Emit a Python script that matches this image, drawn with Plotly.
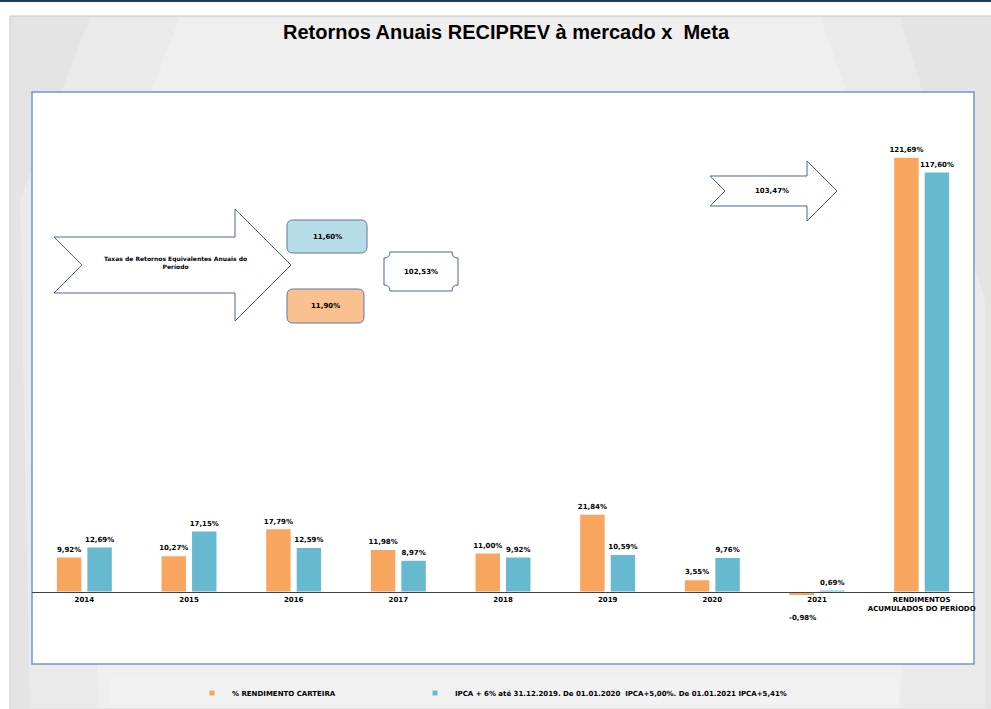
import plotly.graph_objects as go

# ---------------- data ----------------
categories = ["2014", "2015", "2016", "2017", "2018", "2019", "2020", "2021",
              "RENDIMENTOS<br>ACUMULADOS DO PERÍODO"]
carteira = [9.92, 10.27, 17.79, 11.98, 11.00, 21.84, 3.55, -0.98, 121.69]
meta = [12.69, 17.15, 12.59, 8.97, 9.92, 10.59, 9.76, 0.69, 117.60]
name_carteira = "% RENDIMENTO CARTEIRA"
name_meta = "IPCA + 6% até 31.12.2019. De 01.01.2020  IPCA+5,00%. De 01.01.2021 IPCA+5,41%"
title_text = "Retornos Anuais RECIPREV à mercado x \u00a0Meta"
arrow_text = "Taxas de Retornos Equivalentes Anuais do<br>Período"
taxa_meta = "11,60%"
taxa_carteira = "11,90%"
razao_taxas = "102,53%"
razao_acumulado = "103,47%"

# ---------------- geometry helpers ----------------
W, H = 991, 709
PL, PR, PT, PB = 32, 974, 92, 664  # plot box in px


def fx(x):
    return (x - PL) / (PR - PL)


def fy(y):
    return (PB - y) / (PB - PT)


def P(x, y):
    return f"{fx(x):.5f},{fy(y):.5f}"


def fmt(v):
    return f"{v:.2f}%".replace(".", ",")


ORANGE = "#F8A55F"
BLUE = "#67B9CF"
OUTLINE = "#4A6491"
FONT = "DejaVu Sans"


def label_list(vals):
    return [fmt(v) if v >= 0 else "" for v in vals]


fig = go.Figure()
fig.add_trace(go.Bar(
    x=categories, y=carteira, name=name_carteira, marker_color=ORANGE,
    marker_line=dict(color="white", width=1.5), text=label_list(carteira),
    textposition="outside", constraintext="none", cliponaxis=False,
    textfont=dict(family=FONT, size=7, color="black", weight="bold"),
    showlegend=False))
fig.add_trace(go.Bar(
    x=categories, y=meta, name=name_meta, marker_color=BLUE,
    marker_line=dict(color="white", width=1.5), text=label_list(meta),
    textposition="outside", constraintext="none", cliponaxis=False,
    textfont=dict(family=FONT, size=7, color="black", weight="bold"),
    showlegend=False))
# legend proxies (small square symbols), one legend each so they can be placed freely
fig.add_trace(go.Scatter(x=[None], y=[None], mode="markers", name=name_carteira, legend="legend",
                         marker=dict(symbol="square", size=5, color=ORANGE)))
fig.add_trace(go.Scatter(x=[None], y=[None], mode="markers", name=name_meta, legend="legend2",
                         marker=dict(symbol="square", size=5, color=BLUE)))

annotations = []
# negative value labels below the axis labels
for series, xs in ((carteira, -15), (meta, 15)):
    for i, v in enumerate(series):
        if v < 0:
            annotations.append(dict(x=i, y=v, xref="x", yref="y", text=fmt(v),
                                    showarrow=False, xshift=xs, yshift=-22,
                                    font=dict(family=FONT, size=7, color="black", weight="bold")))

shapes = []
# top navy line
shapes.append(dict(type="rect", xref="paper", yref="paper", x0=fx(0), x1=fx(W), y0=fy(0), y1=fy(2),
                   fillcolor="#1F3B5C", line_width=0, layer="below"))
# card
shapes.append(dict(type="rect", xref="paper", yref="paper", x0=fx(10), x1=fx(W + 5), y0=fy(16), y1=fy(H + 5),
                   fillcolor="#E4E4E4", line=dict(color="#C6C6C6", width=1), layer="below"))
# lighter gradient bands
shapes.append(dict(type="path", xref="paper", yref="paper",
                   path=f"M{P(90,17)} L{P(900,17)} L{P(985,300)} L{P(985,708)} L{P(30,708)} L{P(20,200)} Z",
                   fillcolor="#EAEAEA", line_width=0, layer="below"))
shapes.append(dict(type="path", xref="paper", yref="paper",
                   path=f"M{P(180,17)} L{P(820,17)} L{P(920,300)} L{P(900,708)} L{P(100,708)} L{P(70,300)} Z",
                   fillcolor="#EFEFEF", line_width=0, layer="below"))
# legend strip
shapes.append(dict(type="rect", xref="paper", yref="paper", x0=fx(111), x1=fx(898), y0=fy(679), y1=fy(705),
                   fillcolor="#F2F2F2", line_width=0, layer="below"))
# white plot box
shapes.append(dict(type="rect", xref="paper", yref="paper", x0=0, x1=1, y0=0, y1=1,
                   fillcolor="white", line=dict(color="#6F96D4", width=1.5), layer="below"))

# big notched arrow
big = [(54, 237), (235, 237), (235, 209), (291, 265), (235, 321), (235, 293), (54, 293), (82, 265)]
shapes.append(dict(type="path", xref="paper", yref="paper",
                   path="M" + " L".join(P(x, y) for x, y in big) + " Z",
                   fillcolor="white", line=dict(color=OUTLINE, width=1), layer="above"))
# right notched arrow
small = [(710, 176), (807, 176), (807, 161), (837, 191), (807, 221), (807, 206), (710, 206), (725, 191)]
shapes.append(dict(type="path", xref="paper", yref="paper",
                   path="M" + " L".join(P(x, y) for x, y in small) + " Z",
                   fillcolor="white", line=dict(color=OUTLINE, width=1), layer="above"))


def rounded(x0, y0, x1, y1, r):
    return (f"M{P(x0+r,y0)} L{P(x1-r,y0)} Q{P(x1,y0)} {P(x1,y0+r)} L{P(x1,y1-r)} "
            f"Q{P(x1,y1)} {P(x1-r,y1)} L{P(x0+r,y1)} Q{P(x0,y1)} {P(x0,y1-r)} "
            f"L{P(x0,y0+r)} Q{P(x0,y0)} {P(x0+r,y0)} Z")


def plaque(x0, y0, x1, y1, r):
    return (f"M{P(x0+r,y0)} L{P(x1-r,y0)} Q{P(x1-r,y0+r)} {P(x1,y0+r)} L{P(x1,y1-r)} "
            f"Q{P(x1-r,y1-r)} {P(x1-r,y1)} L{P(x0+r,y1)} Q{P(x0+r,y1-r)} {P(x0,y1-r)} "
            f"L{P(x0,y0+r)} Q{P(x0+r,y0+r)} {P(x0+r,y0)} Z")


shapes.append(dict(type="path", xref="paper", yref="paper", path=rounded(287, 220, 367, 253, 6),
                   fillcolor="#B7DDE8", line=dict(color="#5B79A6", width=1), layer="above"))
shapes.append(dict(type="path", xref="paper", yref="paper", path=rounded(287, 289, 364, 323, 6),
                   fillcolor="#FAC090", line=dict(color="#5B79A6", width=1), layer="above"))
shapes.append(dict(type="path", xref="paper", yref="paper", path=plaque(384, 252, 458, 291, 6),
                   fillcolor="white", line=dict(color=OUTLINE, width=1), layer="above"))


def txt(x, y, s, size=7):
    annotations.append(dict(x=fx(x), y=fy(y), xref="paper", yref="paper", text=s, showarrow=False,
                            xanchor="center", yanchor="middle",
                            font=dict(family=FONT, size=size, color="black", weight="bold")))


txt(175, 262, arrow_text, 6)
txt(327, 237, taxa_meta)
txt(325, 306, taxa_carteira)
txt(421, 272, razao_taxas)
txt(772, 191, razao_acumulado)

legend_font = dict(family=FONT, size=7, color="black", weight="bold")
fig.update_layout(
    width=W, height=H, autosize=False,
    margin=dict(l=PL, r=W - PR, t=PT, b=H - PB, autoexpand=False),
    paper_bgcolor="white", plot_bgcolor="rgba(0,0,0,0)",
    barmode="group", bargap=0.417, bargroupgap=0.15,
    title=dict(text=title_text, x=506 / W, xanchor="center", xref="container",
               y=1 - 32 / H, yanchor="middle", yref="container",
               font=dict(family="Liberation Sans", size=20, color="black", weight="bold")),
    xaxis=dict(type="category", range=[-0.5, len(categories) - 0.5], anchor="free",
               position=(PB - 592) / (PB - PT),
               showline=True, linecolor="#404040", linewidth=1.2, showgrid=False,
               ticks="", tickfont=dict(family=FONT, size=7, color="black", weight="bold")),
    yaxis=dict(range=[-20.1, 139.9], visible=False, showgrid=False, zeroline=False),
    legend=dict(orientation="h", x=fx(232 - 40), xref="paper", xanchor="left",
                y=fy(693), yref="paper", yanchor="middle",
                bgcolor="rgba(0,0,0,0)", font=legend_font),
    legend2=dict(orientation="h", x=fx(455 - 40), xref="paper", xanchor="left",
                 y=fy(693), yref="paper", yanchor="middle",
                 bgcolor="rgba(0,0,0,0)", font=legend_font),
    shapes=shapes, annotations=annotations,
)

fig.write_html("out.html", config={"displayModeBar": False},
               post_script="document.body.style.margin='0';document.body.style.overflow='hidden';")
